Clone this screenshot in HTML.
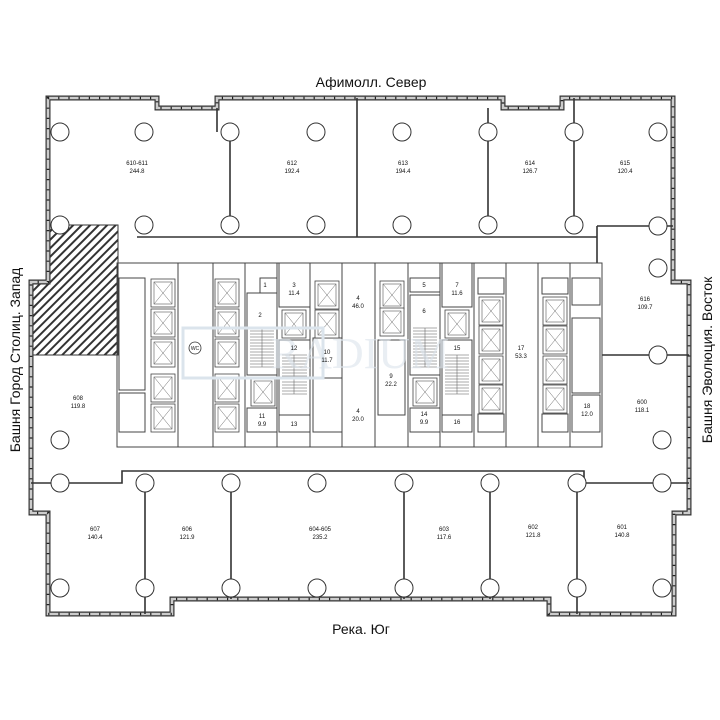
<!DOCTYPE html>
<html><head><meta charset="utf-8"><style>
html,body{margin:0;padding:0;background:#fff}
svg{display:block}
text{font-family:"Liberation Sans",sans-serif;fill:#111}
.s{font-size:6px;text-anchor:middle}
</style></head><body>
<svg width="720" height="720" viewBox="0 0 720 720" xmlns="http://www.w3.org/2000/svg">
<defs>
<pattern id="h" width="6" height="6" patternUnits="userSpaceOnUse" patternTransform="rotate(45)">
<rect width="6" height="6" fill="#fff"/><rect width="2" height="6" fill="#333"/></pattern>
<g id="sh"><rect x="0" y="0" width="24" height="28" fill="#fff" stroke="#444" stroke-width="0.8"/><rect x="3" y="3" width="18" height="22" fill="none" stroke="#555" stroke-width="0.6"/><path d="M3 3L21 25M21 3L3 25" stroke="#666" stroke-width="0.5"/></g>
</defs>
<path d="M50 225H118V355H32V282H50Z" fill="url(#h)" stroke="#333" stroke-width="1"/>
<g fill="none">
<path d="M48 98H157V108H217V98H503V108H562V98H673V282H689V513H674V614H549V599H172V614H48V513H31V282H48Z" stroke="#333" stroke-width="5"/>
<path d="M48 98H157V108H217V98H503V108H562V98H673V282H689V513H674V614H549V599H172V614H48V513H31V282H48Z" stroke="#ccc" stroke-width="2.6"/>
<path d="M48 98H157V108H217V98H503V108H562V98H673V282H689V513H674V614H549V599H172V614H48V513H31V282H48Z" stroke="#222" stroke-width="2.6" stroke-dasharray="1.2 9"/>
</g>
<g stroke="#333" stroke-width="1.6" fill="none">
<path d="M137 237H597"/>
<path d="M597 226H673"/>
<path d="M597 226V263"/>
<path d="M217 108V132M230 132V225M357 98V237M488 108V225M574 98V225"/>
<path d="M602 355H689"/>
<path d="M31 483H122V471H584V483H689"/>
<path d="M145 483V614M231 483V599M404 483V599M490 483V599M577 483V614"/>
</g>
<g stroke="#444" stroke-width="1" fill="none">
<rect x="117" y="263" width="485" height="184"/>
<path d="M178 263V447M213 263V447M245 263V447M277 263V447M310 263V447M342 263V447M375 263V447M408 263V447M440 263V447M474 263V447M506 263V447M538 263V447M570 263V447"/>
<rect x="119" y="278" width="26" height="112"/><rect x="119" y="393" width="26" height="39"/>
<rect x="260" y="278" width="17" height="15"/><rect x="247" y="293" width="30" height="82"/><rect x="247" y="408" width="30" height="24"/>
<rect x="279" y="263" width="31" height="44"/><rect x="279" y="340" width="31" height="75"/><rect x="279" y="415" width="31" height="17"/>
<rect x="313" y="338" width="29" height="40"/><rect x="313" y="378" width="29" height="54"/>
<rect x="378" y="340" width="27" height="75"/>
<rect x="410" y="278" width="30" height="14"/><rect x="410" y="295" width="30" height="80"/><rect x="410" y="408" width="30" height="24"/>
<rect x="442" y="263" width="30" height="44"/><rect x="442" y="340" width="30" height="75"/><rect x="442" y="415" width="30" height="17"/>
<rect x="572" y="278" width="28" height="27"/><rect x="572" y="318" width="28" height="75"/><rect x="572" y="395" width="28" height="37"/>
<rect x="478" y="278" width="26" height="16"/><rect x="478" y="414" width="26" height="18"/>
<rect x="542" y="278" width="26" height="16"/><rect x="542" y="414" width="26" height="18"/>
</g>
<g stroke="#555" stroke-width="0.5">
<path d="M250 328H274M250 331H274M250 334H274M250 337H274M250 340H274M250 343H274M250 346H274M250 349H274M250 352H274M250 355H274M250 358H274M250 361H274M250 364H274M250 367H274M262 328V367"/>
<path d="M282 355H307M282 358H307M282 361H307M282 364H307M282 367H307M282 370H307M282 373H307M282 376H307M282 379H307M282 382H307M282 385H307M282 388H307M282 391H307M282 394H307M294 355V394"/>
<path d="M413 328H437M413 331H437M413 334H437M413 337H437M413 340H437M413 343H437M413 346H437M413 349H437M413 352H437M413 355H437M413 358H437M413 361H437M413 364H437M413 367H437M425 328V367"/>
<path d="M445 355H469M445 358H469M445 361H469M445 364H469M445 367H469M445 370H469M445 373H469M445 376H469M445 379H469M445 382H469M445 385H469M445 388H469M445 391H469M445 394H469M457 355V394"/>
</g>
<g>
<use href="#sh" x="151" y="279"/><use href="#sh" x="151" y="309"/><use href="#sh" x="151" y="339"/><use href="#sh" x="151" y="374"/><use href="#sh" x="151" y="404"/>
<use href="#sh" x="215" y="279"/><use href="#sh" x="215" y="309"/><use href="#sh" x="215" y="339"/><use href="#sh" x="215" y="374"/><use href="#sh" x="215" y="404"/>
<use href="#sh" x="251" y="378"/><use href="#sh" x="282" y="310"/><use href="#sh" x="315" y="281"/><use href="#sh" x="315" y="310"/>
<use href="#sh" x="380" y="281"/><use href="#sh" x="380" y="308"/><use href="#sh" x="413" y="378"/><use href="#sh" x="445" y="310"/>
<use href="#sh" x="479" y="297"/><use href="#sh" x="479" y="326"/><use href="#sh" x="479" y="356"/><use href="#sh" x="479" y="385"/>
<use href="#sh" x="543" y="297"/><use href="#sh" x="543" y="326"/><use href="#sh" x="543" y="356"/><use href="#sh" x="543" y="385"/>
</g>
<circle cx="195" cy="348" r="6" fill="#fff" stroke="#333" stroke-width="0.8"/><text x="195" y="350" class="s" style="font-size:5px">WC</text>
<rect x="183" y="328" width="140" height="50" fill="none" stroke="#dbe4ec" stroke-width="3"/>
<text x="360" y="368" style="font-size:44px;fill:#dbe4ec;opacity:.6;font-family:'Liberation Serif',serif" text-anchor="middle">RADIUM</text>
<g fill="#fff" stroke="#333" stroke-width="1">
<circle cx="60" cy="132" r="9"/><circle cx="144" cy="132" r="9"/><circle cx="230" cy="132" r="9"/><circle cx="316" cy="132" r="9"/><circle cx="402" cy="132" r="9"/><circle cx="488" cy="132" r="9"/><circle cx="574" cy="132" r="9"/><circle cx="658" cy="132" r="9"/>
<circle cx="60" cy="225" r="9"/><circle cx="144" cy="225" r="9"/><circle cx="230" cy="225" r="9"/><circle cx="316" cy="225" r="9"/><circle cx="402" cy="225" r="9"/><circle cx="488" cy="225" r="9"/><circle cx="574" cy="225" r="9"/><circle cx="658" cy="226" r="9"/>
<circle cx="658" cy="268" r="9"/><circle cx="658" cy="355" r="9"/>
<circle cx="60" cy="440" r="9"/><circle cx="662" cy="440" r="9"/>
<circle cx="60" cy="483" r="9"/><circle cx="145" cy="483" r="9"/><circle cx="231" cy="483" r="9"/><circle cx="317" cy="483" r="9"/><circle cx="404" cy="483" r="9"/><circle cx="490" cy="483" r="9"/><circle cx="577" cy="483" r="9"/><circle cx="662" cy="483" r="9"/>
<circle cx="60" cy="588" r="9"/><circle cx="145" cy="588" r="9"/><circle cx="231" cy="588" r="9"/><circle cx="317" cy="588" r="9"/><circle cx="404" cy="588" r="9"/><circle cx="490" cy="588" r="9"/><circle cx="577" cy="588" r="9"/><circle cx="662" cy="588" r="9"/>
</g>
<g class="s">
<text x="137" y="165" class="s">610-611</text><text x="137" y="173" class="s">244.8</text>
<text x="292" y="165" class="s">612</text><text x="292" y="173" class="s">192.4</text>
<text x="403" y="165" class="s">613</text><text x="403" y="173" class="s">194.4</text>
<text x="530" y="165" class="s">614</text><text x="530" y="173" class="s">126.7</text>
<text x="625" y="165" class="s">615</text><text x="625" y="173" class="s">120.4</text>
<text x="645" y="301" class="s">616</text><text x="645" y="309" class="s">109.7</text>
<text x="642" y="404" class="s">600</text><text x="642" y="412" class="s">118.1</text>
<text x="78" y="400" class="s">608</text><text x="78" y="408" class="s">119.8</text>
<text x="95" y="531" class="s">607</text><text x="95" y="539" class="s">140.4</text>
<text x="187" y="531" class="s">606</text><text x="187" y="539" class="s">121.9</text>
<text x="320" y="531" class="s">604-605</text><text x="320" y="539" class="s">235.2</text>
<text x="444" y="531" class="s">603</text><text x="444" y="539" class="s">117.6</text>
<text x="533" y="529" class="s">602</text><text x="533" y="537" class="s">121.8</text>
<text x="622" y="529" class="s">601</text><text x="622" y="537" class="s">140.8</text>
<text x="265" y="287" class="s">1</text><text x="260" y="317" class="s">2</text>
<text x="294" y="287" class="s">3</text><text x="294" y="295" class="s">11.4</text>
<text x="358" y="300" class="s">4</text><text x="358" y="308" class="s">46.0</text>
<text x="294" y="350" class="s">12</text>
<text x="327" y="354" class="s">10</text><text x="327" y="362" class="s">11.7</text>
<text x="358" y="413" class="s">4</text><text x="358" y="421" class="s">20.0</text>
<text x="262" y="418" class="s">11</text><text x="262" y="426" class="s">9.9</text>
<text x="294" y="426" class="s">13</text>
<text x="391" y="378" class="s">9</text><text x="391" y="386" class="s">22.2</text>
<text x="424" y="287" class="s">5</text><text x="424" y="313" class="s">6</text>
<text x="457" y="287" class="s">7</text><text x="457" y="295" class="s">11.6</text>
<text x="457" y="350" class="s">15</text>
<text x="424" y="416" class="s">14</text><text x="424" y="424" class="s">9.9</text>
<text x="457" y="424" class="s">16</text>
<text x="521" y="350" class="s">17</text><text x="521" y="358" class="s">53.3</text>
<text x="587" y="408" class="s">18</text><text x="587" y="416" class="s">12.0</text>
</g>
<text x="371" y="87" style="font-size:14px" text-anchor="middle">Афимолл. Север</text>
<text x="361" y="634" style="font-size:14px" text-anchor="middle">Река. Юг</text>
<text transform="translate(20,360) rotate(-90)" style="font-size:14px" text-anchor="middle">Башня Город Столиц. Запад</text>
<text transform="translate(712,360) rotate(-90)" style="font-size:14px" text-anchor="middle">Башня Эволюция. Восток</text>
</svg>
</body></html>
